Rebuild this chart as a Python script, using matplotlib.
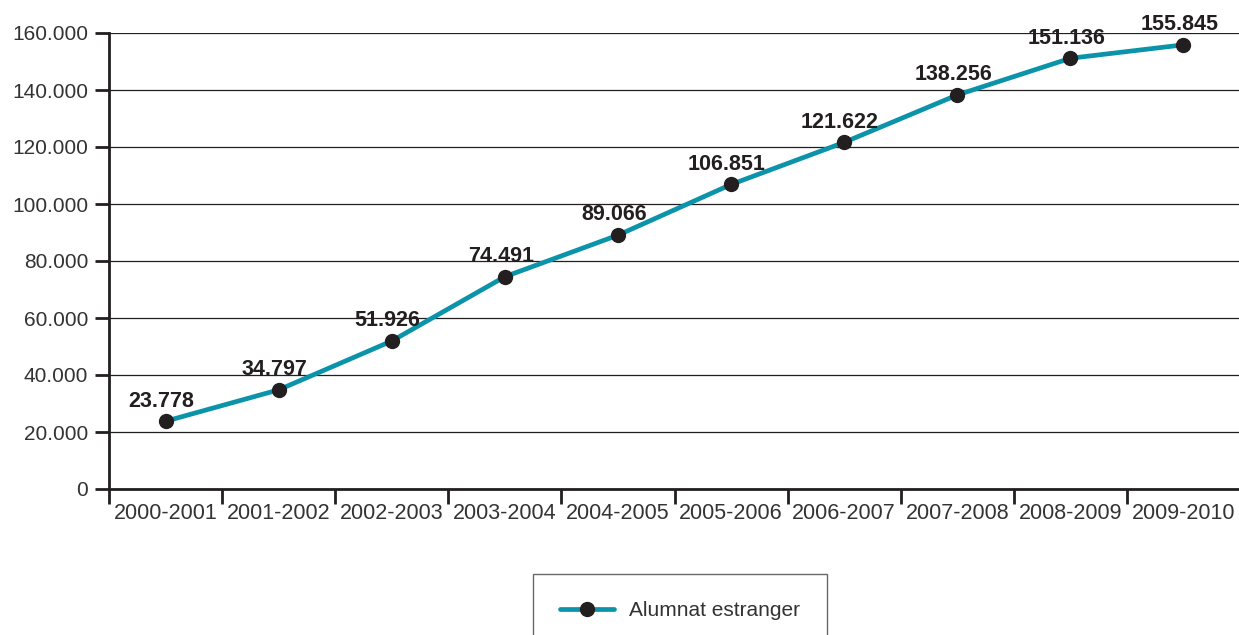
import numpy as np
import matplotlib.pyplot as plt
from matplotlib.ticker import FuncFormatter, FixedLocator

plt.rcParams['font.family'] = ['Liberation Sans', 'DejaVu Sans']

# Data
cursos = ['2000-2001', '2001-2002', '2002-2003', '2003-2004', '2004-2005',
          '2005-2006', '2006-2007', '2007-2008', '2008-2009', '2009-2010']
alumnat = [23778, 34797, 51926, 74491, 89066, 106851, 121622, 138256, 151136, 155845]

def fmt_miles(v, pos=None):
    return f"{int(v):,}".replace(',', '.')

fig = plt.figure(figsize=(12.39, 6.35), dpi=100)
ax = fig.add_axes([109/1239, 1 - 489/635, 1131/1239, (489 - 33)/635])

x = np.arange(len(cursos))
ax.plot(x, alumnat, color='#0a93a9', lw=3.4, marker='o', ms=10,
        mfc='#231f20', mec='#231f20', label='Alumnat estranger', zorder=3,
        solid_capstyle='round')

for xi, v in zip(x, alumnat):
    ax.annotate(fmt_miles(v), (xi, v), xytext=(-3, 7), textcoords='offset points',
                ha='center', va='bottom', fontsize=15.5, fontweight='bold', color='#231f20')

ax.set_xlim(-0.5, len(cursos) - 0.5)
ax.set_ylim(0, 160000)
ax.set_yticks(np.arange(0, 160001, 20000))
ax.yaxis.set_major_formatter(FuncFormatter(fmt_miles))
ax.yaxis.grid(True, color='#231f20', lw=0.9)
ax.set_axisbelow(True)

# x ticks at category boundaries, labels at centers
ax.xaxis.set_major_locator(FixedLocator(np.arange(-0.5, len(cursos), 1.0)))
ax.xaxis.set_major_formatter(FuncFormatter(lambda v, p: ''))
ax.xaxis.set_minor_locator(FixedLocator(x))
ax.set_xticklabels(cursos, minor=True)
ax.tick_params(axis='x', which='major', length=11, width=2, color='#231f20', direction='out')
ax.tick_params(axis='x', which='minor', length=0, pad=10, labelsize=15.5, labelcolor='#333333')
ax.tick_params(axis='y', length=10, width=2, color='#231f20', direction='out',
               labelsize=15, labelcolor='#333333', pad=5)

for s in ['top', 'right']:
    ax.spines[s].set_visible(False)
for s in ['left', 'bottom']:
    ax.spines[s].set_linewidth(2)
    ax.spines[s].set_color('#231f20')

leg = ax.legend(loc='upper center', bbox_to_anchor=(680/1239, 1 - 574/635),
                bbox_transform=fig.transFigure, frameon=True, fancybox=False,
                fontsize=15, borderpad=1.3, handlelength=2.6, handletextpad=0.75,
                borderaxespad=0)
leg.get_frame().set_edgecolor('#444444')
leg.get_frame().set_linewidth(1)
for t in leg.get_texts():
    t.set_color('#333333')

fig.savefig('out.png', dpi=100)
